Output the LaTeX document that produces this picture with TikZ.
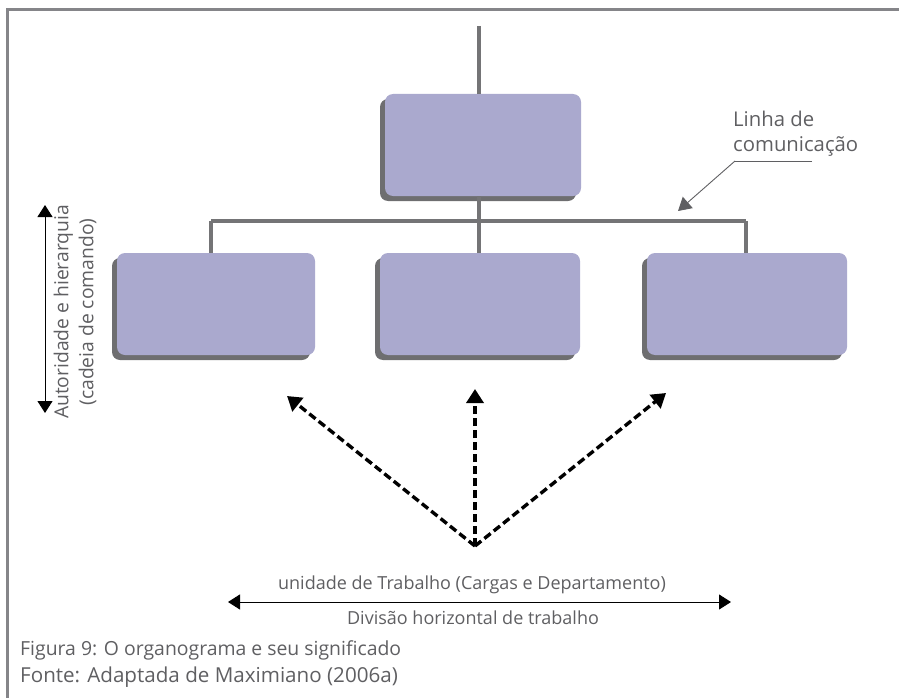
\documentclass[tikz,border=0pt]{standalone}
\usepackage{fontspec}
\setmainfont{Open Sans}
\usetikzlibrary{arrows.meta,shadows}
\definecolor{boxfill}{HTML}{AAA9CE}
\definecolor{boxshade}{HTML}{6E6E70}
\definecolor{linkgray}{HTML}{747476}
\definecolor{framegray}{HTML}{858589}
\definecolor{textgray}{HTML}{5F5F62}
\tikzset{
  unitbox/.style={fill=boxfill, draw=none, rounded corners=8pt,
    minimum width=#1, minimum height=102pt, inner sep=0pt,
    drop shadow={shadow xshift=-5pt, shadow yshift=-5pt, fill=boxshade, opacity=1}},
  unitbox/.default=200pt,
  link/.style={draw=linkgray, line width=3.5pt},
  label/.style={text=textgray, font=\fontsize{18}{21}\selectfont, inner sep=0pt},
  biglabel/.style={label, font=\fontsize{20.3}{25}\selectfont},
  dasharrow/.style={line width=3.4pt, dash pattern=on 8pt off 4pt,
    -{Triangle[width=17pt,length=14pt]}},
  bothway/.style={line width=1pt, {Triangle[width=15pt,length=12pt]}-{Triangle[width=15pt,length=12pt]}},
}
\begin{document}
\begin{tikzpicture}[x=1pt,y=-1pt]
  \useasboundingbox (0,0) rectangle (899,698);
  % frame along the top and left edge
  \draw[framegray, line width=3pt] (7.5,698) -- (7.5,10) -- (899,10);

  % organisation boxes
  \node[unitbox=196pt] (top) at (483,145) {};
  \node[unitbox=198pt] (left) at (216,304) {};
  \node[unitbox] (mid) at (480,304) {};
  \node[unitbox] (right) at (747,304) {};

  % reporting lines
  \coordinate (above) at (479,26);
  \coordinate (bus) at (479,221);
  \coordinate (busL) at (211,221);
  \coordinate (busR) at (746,221);
  \draw[link] (above) -- (above |- top.north);
  \draw[link] (bus |- top.south) -- (bus);
  \draw[link] (busL) -- (busR);
  \draw[link] (busL) -- (busL |- left.north);
  \draw[link] (bus) -- (bus |- mid.north);
  \draw[link] (busR) -- (busR |- right.north);

  % communication line callout
  \node[biglabel, align=left, anchor=north west] (comm) at (733,111) {Linha de\\comunica\c{c}\~ao};
  \coordinate (ulA) at (735,161);
  \coordinate (ulB) at (812,161);
  \coordinate (commtip) at (678,211);
  \draw[line width=0.9pt, textgray] (ulB) -- (ulA);
  \draw[line width=0.9pt, textgray, -{Triangle[width=15pt,length=13pt]}] (ulA) -- (commtip);

  % authority and hierarchy axis
  \coordinate (authT) at (45,205);
  \coordinate (authB) at (45,413);
  \draw[bothway] (authB) -- (authT);
  \node[label, font=\fontsize{19.3}{25}\selectfont, rotate=90, align=center] (auth) at (75,312) {Autoridade e hierarquia\\(cadeia de comando)};

  % division of work arrows
  \coordinate (origin) at (475,546);
  \coordinate (tipL) at (287,396);
  \coordinate (tipM) at (475,389);
  \coordinate (tipR) at (666,393);
  \draw[dasharrow] (origin) -- (tipL);
  \draw[dasharrow] (origin) -- (tipM);
  \draw[dasharrow] (origin) -- (tipR);

  % horizontal division axis
  \coordinate (horL) at (228,602);
  \coordinate (horR) at (731,602);
  \draw[bothway] (horL) -- (horR);
  \node[label] (unit) at (472,585) {unidade de Trabalho (Cargas e Departamento)};
  \node[label] (divh) at (473,618) {Divis\~ao horizontal de trabalho};

  % caption
  \node[label, font=\fontsize{19.4}{25}\selectfont, anchor=west] (cap1) at (20,650) {Figura 9: O organograma e seu significado};
  \node[label, font=\fontsize{20.6}{25}\selectfont, anchor=west] (cap2) at (20,677) {Fonte: Adaptada de Maximiano (2006a)};
\end{tikzpicture}
\end{document}
